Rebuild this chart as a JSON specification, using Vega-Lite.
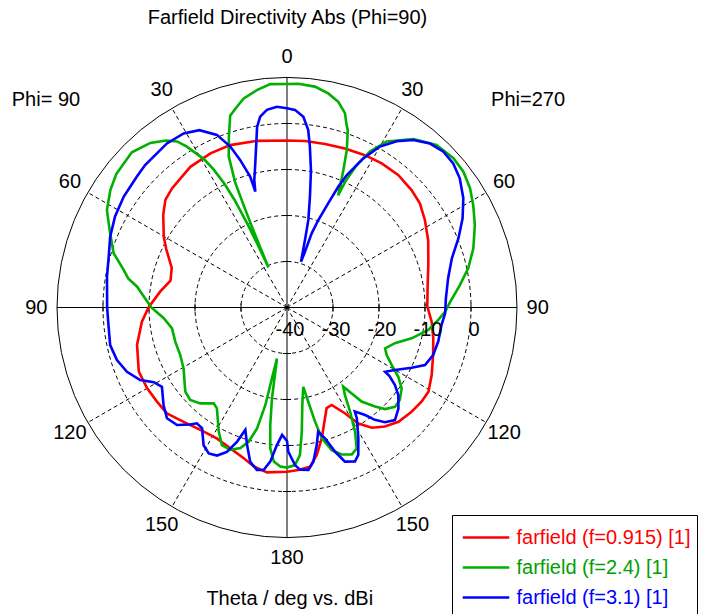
{
  "$schema": "https://vega.github.io/schema/vega-lite/v6.json",
  "width": 460,
  "height": 460,
  "autosize": "none",
  "padding": {"left": 57, "top": 77.5, "right": 189, "bottom": 76.5},
  "background": "white",
  "config": {
    "view": {"stroke": null},
    "font": "Liberation Sans"
  },
  "datasets": {
    "curves": [
      {"f":"0.915","angle":0,"dbi":-3.7},{"f":"0.915","angle":6.2,"dbi":-3.6},{"f":"0.915","angle":13.1,"dbi":-3.5},{"f":"0.915","angle":20,"dbi":-3.2},{"f":"0.915","angle":27.1,"dbi":-2.8},{"f":"0.915","angle":33.3,"dbi":-2.5},{"f":"0.915","angle":40,"dbi":-2.4},{"f":"0.915","angle":46.7,"dbi":-2.8},{"f":"0.915","angle":51.9,"dbi":-3.3},{"f":"0.915","angle":57.6,"dbi":-4.5},{"f":"0.915","angle":64.5,"dbi":-6.0},{"f":"0.915","angle":72.6,"dbi":-7.8},{"f":"0.915","angle":81.6,"dbi":-9.1},{"f":"0.915","angle":89.5,"dbi":-9.5},{"f":"0.915","angle":95.6,"dbi":-8.4},{"f":"0.915","angle":101.9,"dbi":-7.5},{"f":"0.915","angle":108,"dbi":-6.6},{"f":"0.915","angle":115,"dbi":-5.3},{"f":"0.915","angle":120.8,"dbi":-4.2},{"f":"0.915","angle":125,"dbi":-4.3},{"f":"0.915","angle":129.9,"dbi":-4.7},{"f":"0.915","angle":135.7,"dbi":-5.3},{"f":"0.915","angle":140.6,"dbi":-6.5},{"f":"0.915","angle":144.8,"dbi":-8.0},{"f":"0.915","angle":148.4,"dbi":-10.4},{"f":"0.915","angle":151.3,"dbi":-13.8},{"f":"0.915","angle":155.4,"dbi":-16.7},{"f":"0.915","angle":158.5,"dbi":-16.5},{"f":"0.915","angle":165.1,"dbi":-10.6},{"f":"0.915","angle":168.6,"dbi":-7.3},{"f":"0.915","angle":171.8,"dbi":-5.0},{"f":"0.915","angle":176,"dbi":-4.6},{"f":"0.915","angle":180,"dbi":-4.3},
      {"f":"0.915","angle":186.9,"dbi":-3.9},{"f":"0.915","angle":191.8,"dbi":-4.7},{"f":"0.915","angle":196,"dbi":-5.9},{"f":"0.915","angle":201.9,"dbi":-7.0},{"f":"0.915","angle":208.2,"dbi":-7.7},{"f":"0.915","angle":215.3,"dbi":-7.4},{"f":"0.915","angle":222.1,"dbi":-6.5},{"f":"0.915","angle":228.6,"dbi":-5.2},{"f":"0.915","angle":234.1,"dbi":-5.1},{"f":"0.915","angle":240,"dbi":-4.9},{"f":"0.915","angle":246.6,"dbi":-4.9},{"f":"0.915","angle":256,"dbi":-6.4},{"f":"0.915","angle":264.4,"dbi":-8.3},{"f":"0.915","angle":270,"dbi":-9.9},{"f":"0.915","angle":277.1,"dbi":-12.2},{"f":"0.915","angle":283,"dbi":-14.0},{"f":"0.915","angle":289,"dbi":-13.5},{"f":"0.915","angle":295.9,"dbi":-10.8},{"f":"0.915","angle":299.9,"dbi":-9.1},{"f":"0.915","angle":306.8,"dbi":-6.4},{"f":"0.915","angle":311.5,"dbi":-4.7},{"f":"0.915","angle":316,"dbi":-4.0},{"f":"0.915","angle":325.5,"dbi":-2.9},{"f":"0.915","angle":333.6,"dbi":-2.6},{"f":"0.915","angle":340.7,"dbi":-2.6},{"f":"0.915","angle":349.8,"dbi":-3.2},{"f":"0.915","angle":360,"dbi":-3.7},

      {"f":"2.4","angle":0,"dbi":8.6},{"f":"2.4","angle":2.9,"dbi":8.7},{"f":"2.4","angle":7.2,"dbi":8.4},{"f":"2.4","angle":10.9,"dbi":7.4},{"f":"2.4","angle":14,"dbi":6.1},{"f":"2.4","angle":16.6,"dbi":4.1},{"f":"2.4","angle":18.1,"dbi":1.7},{"f":"2.4","angle":18.9,"dbi":0.8},{"f":"2.4","angle":20.8,"dbi":-3.4},{"f":"2.4","angle":22.3,"dbi":-7.7},{"f":"2.4","angle":23.7,"dbi":-11.3},{"f":"2.4","angle":24.5,"dbi":-13.2},{"f":"2.4","angle":24.8,"dbi":-9.9},{"f":"2.4","angle":26.1,"dbi":-5.5},{"f":"2.4","angle":28,"dbi":-1.6},{"f":"2.4","angle":31,"dbi":2.1},{"f":"2.4","angle":36.9,"dbi":5.8},{"f":"2.4","angle":42.6,"dbi":8.0},{"f":"2.4","angle":48.1,"dbi":8.6},{"f":"2.4","angle":52.4,"dbi":8.4},{"f":"2.4","angle":56.9,"dbi":7.5},{"f":"2.4","angle":61.2,"dbi":6.2},{"f":"2.4","angle":66.3,"dbi":4.6},{"f":"2.4","angle":72.4,"dbi":2.5},{"f":"2.4","angle":77.8,"dbi":0.3},{"f":"2.4","angle":82.6,"dbi":-2.1},{"f":"2.4","angle":88,"dbi":-4.5},{"f":"2.4","angle":91.5,"dbi":-5.6},{"f":"2.4","angle":94.7,"dbi":-7.0},{"f":"2.4","angle":99,"dbi":-8.9},{"f":"2.4","angle":103.9,"dbi":-12.1},{"f":"2.4","angle":108.3,"dbi":-15.3},{"f":"2.4","angle":112.6,"dbi":-16.9},{"f":"2.4","angle":115.5,"dbi":-16.0},{"f":"2.4","angle":118.8,"dbi":-14.0},{"f":"2.4","angle":121.9,"dbi":-11.5},{"f":"2.4","angle":125.2,"dbi":-9.5},{"f":"2.4","angle":129.3,"dbi":-8.3},{"f":"2.4","angle":132.6,"dbi":-8.1},{"f":"2.4","angle":136,"dbi":-9.3},{"f":"2.4","angle":138.4,"dbi":-11.2},{"f":"2.4","angle":141.6,"dbi":-13.9},{"f":"2.4","angle":143,"dbi":-16.6},{"f":"2.4","angle":144.6,"dbi":-18.9},{"f":"2.4","angle":146.5,"dbi":-17.2},{"f":"2.4","angle":148.8,"dbi":-13.5},{"f":"2.4","angle":151.3,"dbi":-9.2},{"f":"2.4","angle":153.7,"dbi":-5.8},{"f":"2.4","angle":156.2,"dbi":-5.1},{"f":"2.4","angle":159.6,"dbi":-5.9},{"f":"2.4","angle":162.6,"dbi":-7.5},{"f":"2.4","angle":165.1,"dbi":-10.6},{"f":"2.4","angle":166.2,"dbi":-14.5},{"f":"2.4","angle":167.3,"dbi":-19.0},{"f":"2.4","angle":168.4,"dbi":-22.4},{"f":"2.4","angle":171.1,"dbi":-18.5},{"f":"2.4","angle":173.2,"dbi":-12.8},{"f":"2.4","angle":175,"dbi":-7.8},{"f":"2.4","angle":177.1,"dbi":-5.7},{"f":"2.4","angle":180,"dbi":-5.2},
      {"f":"2.4","angle":182.4,"dbi":-5.4},{"f":"2.4","angle":184.9,"dbi":-6.4},{"f":"2.4","angle":186.8,"dbi":-9.2},{"f":"2.4","angle":188.1,"dbi":-14.2},{"f":"2.4","angle":189.4,"dbi":-20.0},{"f":"2.4","angle":190.3,"dbi":-25.8},{"f":"2.4","angle":191.1,"dbi":-28.7},{"f":"2.4","angle":192,"dbi":-24.3},{"f":"2.4","angle":192.5,"dbi":-18.3},{"f":"2.4","angle":193.9,"dbi":-12.9},{"f":"2.4","angle":195.9,"dbi":-9.7},{"f":"2.4","angle":198.3,"dbi":-7.8},{"f":"2.4","angle":201.7,"dbi":-6.7},{"f":"2.4","angle":205.3,"dbi":-6.9},{"f":"2.4","angle":208.8,"dbi":-9.2},{"f":"2.4","angle":214.8,"dbi":-13.3},{"f":"2.4","angle":217.4,"dbi":-13.8},{"f":"2.4","angle":222.1,"dbi":-11.9},{"f":"2.4","angle":226.3,"dbi":-10.9},{"f":"2.4","angle":230.4,"dbi":-11.3},{"f":"2.4","angle":239.5,"dbi":-13.9},{"f":"2.4","angle":246,"dbi":-14.6},{"f":"2.4","angle":253,"dbi":-14.6},{"f":"2.4","angle":259.7,"dbi":-14.6},{"f":"2.4","angle":265,"dbi":-13.1},{"f":"2.4","angle":270,"dbi":-10.5},{"f":"2.4","angle":277.9,"dbi":-7.1},{"f":"2.4","angle":280.4,"dbi":-4.9},{"f":"2.4","angle":282.9,"dbi":-3.6},{"f":"2.4","angle":287.4,"dbi":-0.5},{"f":"2.4","angle":293.2,"dbi":1.9},{"f":"2.4","angle":298.4,"dbi":4.5},{"f":"2.4","angle":303.6,"dbi":6.1},{"f":"2.4","angle":308,"dbi":7.1},{"f":"2.4","angle":315,"dbi":7.7},{"f":"2.4","angle":320.3,"dbi":6.5},{"f":"2.4","angle":324.1,"dbi":4.8},{"f":"2.4","angle":326.5,"dbi":3.3},{"f":"2.4","angle":328.1,"dbi":1.2},{"f":"2.4","angle":330.8,"dbi":-3.1},{"f":"2.4","angle":332,"dbi":-6.0},{"f":"2.4","angle":333.2,"dbi":-10.0},{"f":"2.4","angle":334,"dbi":-14.0},{"f":"2.4","angle":334.7,"dbi":-20.0},{"f":"2.4","angle":335,"dbi":-25.0},{"f":"2.4","angle":335.2,"dbi":-30.4},{"f":"2.4","angle":336,"dbi":-26.0},{"f":"2.4","angle":336.5,"dbi":-21.0},{"f":"2.4","angle":337,"dbi":-16.0},{"f":"2.4","angle":337.5,"dbi":-10.5},{"f":"2.4","angle":338.9,"dbi":-4.8},{"f":"2.4","angle":341.2,"dbi":-0.8},{"f":"2.4","angle":343.5,"dbi":3.5},{"f":"2.4","angle":345.5,"dbi":4.7},{"f":"2.4","angle":348.3,"dbi":6.4},{"f":"2.4","angle":352.1,"dbi":7.7},{"f":"2.4","angle":355.7,"dbi":8.7},{"f":"2.4","angle":360,"dbi":8.6},

      {"f":"3.1","angle":0,"dbi":3.3},{"f":"3.1","angle":2.3,"dbi":3.0},{"f":"3.1","angle":4.9,"dbi":1.6},{"f":"3.1","angle":6.8,"dbi":-1.1},{"f":"3.1","angle":8.1,"dbi":-4.7},{"f":"3.1","angle":9.9,"dbi":-9.7},{"f":"3.1","angle":11.7,"dbi":-15.4},{"f":"3.1","angle":13.7,"dbi":-20.4},{"f":"3.1","angle":14.9,"dbi":-24.8},{"f":"3.1","angle":17,"dbi":-29.6},{"f":"3.1","angle":17.9,"dbi":-27.3},{"f":"3.1","angle":18.4,"dbi":-23.0},{"f":"3.1","angle":19.7,"dbi":-19.8},{"f":"3.1","angle":21.6,"dbi":-15.6},{"f":"3.1","angle":23,"dbi":-11.5},{"f":"3.1","angle":24.3,"dbi":-8.4},{"f":"3.1","angle":27.1,"dbi":-3.6},{"f":"3.1","angle":30,"dbi":0.4},{"f":"3.1","angle":33.4,"dbi":3.3},{"f":"3.1","angle":37,"dbi":5.6},{"f":"3.1","angle":41.1,"dbi":7.3},{"f":"3.1","angle":45.1,"dbi":8.0},{"f":"3.1","angle":49.1,"dbi":7.8},{"f":"3.1","angle":53.2,"dbi":6.9},{"f":"3.1","angle":58.2,"dbi":5.1},{"f":"3.1","angle":63.1,"dbi":2.8},{"f":"3.1","angle":68,"dbi":0.2},{"f":"3.1","angle":73.4,"dbi":-2.6},{"f":"3.1","angle":79.7,"dbi":-4.4},{"f":"3.1","angle":86.7,"dbi":-5.4},{"f":"3.1","angle":92.1,"dbi":-5.6},{"f":"3.1","angle":96.5,"dbi":-6.2},{"f":"3.1","angle":102.7,"dbi":-6.3},{"f":"3.1","angle":108,"dbi":-6.6},{"f":"3.1","angle":112.6,"dbi":-7.5},{"f":"3.1","angle":115.8,"dbi":-9.9},{"f":"3.1","angle":120.1,"dbi":-12.9},{"f":"3.1","angle":123.2,"dbi":-14.5},{"f":"3.1","angle":123.8,"dbi":-13.2},{"f":"3.1","angle":125.7,"dbi":-11.1},{"f":"3.1","angle":128.2,"dbi":-9.2},{"f":"3.1","angle":132.2,"dbi":-7.3},{"f":"3.1","angle":136.2,"dbi":-6.1},{"f":"3.1","angle":139.5,"dbi":-7.2},{"f":"3.1","angle":142,"dbi":-9.0},{"f":"3.1","angle":144,"dbi":-11.1},{"f":"3.1","angle":146.9,"dbi":-13.0},{"f":"3.1","angle":147.8,"dbi":-11.5},{"f":"3.1","angle":151.4,"dbi":-7.6},{"f":"3.1","angle":154.2,"dbi":-4.4},{"f":"3.1","angle":156.2,"dbi":-3.4},{"f":"3.1","angle":159.4,"dbi":-4.2},{"f":"3.1","angle":161.6,"dbi":-7.0},{"f":"3.1","angle":163.8,"dbi":-10.4},{"f":"3.1","angle":165.9,"dbi":-12.2},{"f":"3.1","angle":167.8,"dbi":-9.4},{"f":"3.1","angle":170.3,"dbi":-6.0},{"f":"3.1","angle":172.5,"dbi":-4.4},{"f":"3.1","angle":175.4,"dbi":-4.6},{"f":"3.1","angle":177.1,"dbi":-5.7},{"f":"3.1","angle":179.5,"dbi":-8.7},{"f":"3.1","angle":180,"dbi":-11.0},
      {"f":"3.1","angle":182.2,"dbi":-12.3},{"f":"3.1","angle":184.2,"dbi":-10.0},{"f":"3.1","angle":186.2,"dbi":-6.3},{"f":"3.1","angle":188.2,"dbi":-4.3},{"f":"3.1","angle":190.5,"dbi":-4.1},{"f":"3.1","angle":193.4,"dbi":-5.5},{"f":"3.1","angle":196.2,"dbi":-8.9},{"f":"3.1","angle":198.8,"dbi":-11.9},{"f":"3.1","angle":200.4,"dbi":-8.9},{"f":"3.1","angle":202.6,"dbi":-6.0},{"f":"3.1","angle":205.3,"dbi":-4.4},{"f":"3.1","angle":208.2,"dbi":-4.0},{"f":"3.1","angle":211.2,"dbi":-5.0},{"f":"3.1","angle":215.1,"dbi":-7.9},{"f":"3.1","angle":217.9,"dbi":-8.1},{"f":"3.1","angle":219.6,"dbi":-7.0},{"f":"3.1","angle":223.1,"dbi":-5.0},{"f":"3.1","angle":227.3,"dbi":-4.5},{"f":"3.1","angle":231.7,"dbi":-5.8},{"f":"3.1","angle":237.6,"dbi":-7.8},{"f":"3.1","angle":240.7,"dbi":-6.8},{"f":"3.1","angle":243.7,"dbi":-4.4},{"f":"3.1","angle":248.1,"dbi":-2.5},{"f":"3.1","angle":252.8,"dbi":-1.3},{"f":"3.1","angle":258,"dbi":-0.7},{"f":"3.1","angle":264.4,"dbi":-1.0},{"f":"3.1","angle":270,"dbi":-0.9},{"f":"3.1","angle":279.7,"dbi":-0.3},{"f":"3.1","angle":285.9,"dbi":0.3},{"f":"3.1","angle":291.8,"dbi":1.4},{"f":"3.1","angle":297.9,"dbi":2.3},{"f":"3.1","angle":304.2,"dbi":2.9},{"f":"3.1","angle":311.1,"dbi":3.3},{"f":"3.1","angle":315.1,"dbi":3.7},{"f":"3.1","angle":323.8,"dbi":4.2},{"f":"3.1","angle":329.3,"dbi":4.0},{"f":"3.1","angle":333.7,"dbi":3.0},{"f":"3.1","angle":337.9,"dbi":0.5},{"f":"3.1","angle":340.6,"dbi":-2.9},{"f":"3.1","angle":342.4,"dbi":-6.4},{"f":"3.1","angle":344.3,"dbi":-10.5},{"f":"3.1","angle":344.7,"dbi":-13.9},{"f":"3.1","angle":345.6,"dbi":-11.4},{"f":"3.1","angle":347.6,"dbi":-7.9},{"f":"3.1","angle":349.4,"dbi":-3.7},{"f":"3.1","angle":350.6,"dbi":-0.2},{"f":"3.1","angle":352,"dbi":1.9},{"f":"3.1","angle":354.2,"dbi":3.2},{"f":"3.1","angle":357.1,"dbi":3.7},{"f":"3.1","angle":360,"dbi":3.3}
    ]
  },
  "layer": [
    {
      "data": {"values": [{"level": -30}, {"level": -20}, {"level": -10}, {"level": 0}]},
      "transform": [{"calculate": "datum.level + 40", "as": "r"}, {"calculate": "0", "as": "cx"}],
      "mark": {"type": "point", "shape": "circle", "filled": false, "stroke": "#000", "strokeWidth": 1, "strokeDash": [4, 3], "opacity": 1},
      "encoding": {
        "x": {"field": "cx", "type": "quantitative", "scale": {"domain": [-50, 50], "nice": false, "zero": false}, "axis": null},
        "y": {"field": "cx", "type": "quantitative", "scale": {"domain": [-50, 50], "nice": false, "zero": false}, "axis": null},
        "size": {"field": "r", "type": "quantitative", "scale": {"type": "pow", "exponent": 2, "domain": [0, 50], "range": [0, 211600], "nice": false}, "legend": null}
      }
    },
    {
      "data": {"values": [{"level": 10}]},
      "transform": [{"calculate": "datum.level + 40", "as": "r"}, {"calculate": "0", "as": "cx"}],
      "mark": {"type": "point", "shape": "circle", "filled": false, "stroke": "#000", "strokeWidth": 1, "opacity": 1},
      "encoding": {
        "x": {"field": "cx", "type": "quantitative", "scale": {"domain": [-50, 50], "nice": false, "zero": false}, "axis": null},
        "y": {"field": "cx", "type": "quantitative", "scale": {"domain": [-50, 50], "nice": false, "zero": false}, "axis": null},
        "size": {"field": "r", "type": "quantitative", "scale": {"type": "pow", "exponent": 2, "domain": [0, 50], "range": [0, 211600], "nice": false}, "legend": null}
      }
    },
    {
      "data": {"values": [{"angle": 30}, {"angle": 60}, {"angle": 120}, {"angle": 150}, {"angle": 210}, {"angle": 240}, {"angle": 300}, {"angle": 330}]},
      "transform": [{"calculate": "0", "as": "cx"}, {"calculate": "50*sin(datum.angle*PI/180)", "as": "sx"}, {"calculate": "50*cos(datum.angle*PI/180)", "as": "sy"}],
      "mark": {"type": "rule", "stroke": "#000", "strokeWidth": 1, "strokeDash": [4, 3]},
      "encoding": {
        "x": {"field": "cx", "type": "quantitative", "scale": {"domain": [-50, 50], "nice": false, "zero": false}, "axis": null},
        "y": {"field": "cx", "type": "quantitative", "scale": {"domain": [-50, 50], "nice": false, "zero": false}, "axis": null},
        "x2": {"field": "sx"},
        "y2": {"field": "sy"}
      }
    },
    {
      "data": {"values": [{"angle": 0}, {"angle": 90}, {"angle": 180}, {"angle": 270}]},
      "transform": [{"calculate": "0", "as": "cx"}, {"calculate": "50*sin(datum.angle*PI/180)", "as": "sx"}, {"calculate": "50*cos(datum.angle*PI/180)", "as": "sy"}],
      "mark": {"type": "rule", "stroke": "#000", "strokeWidth": 1},
      "encoding": {
        "x": {"field": "cx", "type": "quantitative", "scale": {"domain": [-50, 50], "nice": false, "zero": false}, "axis": null},
        "y": {"field": "cx", "type": "quantitative", "scale": {"domain": [-50, 50], "nice": false, "zero": false}, "axis": null},
        "x2": {"field": "sx"},
        "y2": {"field": "sy"}
      }
    },
    {
      "data": {"values": [{"level": -30}, {"level": -20}, {"level": -10}, {"level": 0}]},
      "transform": [
        {"calculate": "datum.level + 40", "as": "p"}, {"calculate": "-(datum.level + 40)", "as": "n"},
        {"fold": ["p", "n"], "as": ["k", "v"]},
        {"calculate": "-0.87", "as": "t1"}, {"calculate": "0.87", "as": "t2"}
      ],
      "layer": [
        {"mark": {"type": "rule", "stroke": "#000", "strokeWidth": 1},
         "encoding": {"x": {"field": "v", "type": "quantitative", "scale": {"domain": [-50, 50], "nice": false, "zero": false}, "axis": null},
                      "y": {"field": "t1", "type": "quantitative", "scale": {"domain": [-50, 50], "nice": false, "zero": false}, "axis": null},
                      "y2": {"field": "t2"}}},
        {"mark": {"type": "rule", "stroke": "#000", "strokeWidth": 1},
         "encoding": {"y": {"field": "v", "type": "quantitative", "scale": {"domain": [-50, 50], "nice": false, "zero": false}, "axis": null},
                      "x": {"field": "t1", "type": "quantitative", "scale": {"domain": [-50, 50], "nice": false, "zero": false}, "axis": null},
                      "x2": {"field": "t2"}}}
      ]
    },
    {
      "data": {"name": "curves"},
      "transform": [{"calculate": "(datum.dbi+40)*sin(datum.angle*PI/180)", "as": "px"}, {"calculate": "(datum.dbi+40)*cos(datum.angle*PI/180)", "as": "py"}],
      "mark": {"type": "line", "strokeWidth": 2.6},
      "encoding": {
        "x": {"field": "px", "type": "quantitative", "scale": {"domain": [-50, 50], "nice": false, "zero": false}, "axis": null},
        "y": {"field": "py", "type": "quantitative", "scale": {"domain": [-50, 50], "nice": false, "zero": false}, "axis": null},
        "color": {"field": "f", "type": "nominal",
                  "scale": {"domain": ["0.915", "2.4", "3.1"], "range": ["#ff0000", "#00b000", "#0000ff"]},
                  "legend": {"orient": "none", "legendX": 395, "legendY": 437.5, "title": null, "direction": "vertical",
                             "padding": 6, "strokeColor": "#000", "fillColor": "#fff",
                             "symbolType": "M-1.55,0H1.55", "symbolSize": 900, "symbolStrokeWidth": 2.5, "symbolOffset": 11.5,
                             "labelFontSize": 20, "labelFont": "Liberation Sans", "labelOffset": 14, "labelLimit": 0, "rowPadding": 3,
                             "labelExpr": "'farfield (f=' + datum.label + ') [1]        '",
                             "labelColor": {"expr": "datum.label == '0.915' ? '#ff0000' : datum.label == '2.4' ? '#00a000' : '#0000ff'"}}},
        "order": {"field": "angle", "type": "quantitative"}
      }
    },
    {
      "data": {"values": [{"angle": 0, "label": "0"}, {"angle": 30, "label": "30"}, {"angle": 60, "label": "60"}, {"angle": 90, "label": "90"}, {"angle": 120, "label": "120"}, {"angle": 150, "label": "150"}, {"angle": 180, "label": "180"}, {"angle": 210, "label": "150"}, {"angle": 240, "label": "120"}, {"angle": 270, "label": "90"}, {"angle": 300, "label": "60"}, {"angle": 330, "label": "30"}]},
      "transform": [{"calculate": "54.5*sin(datum.angle*PI/180)", "as": "lx"}, {"calculate": "54.5*cos(datum.angle*PI/180)", "as": "ly"}],
      "mark": {"type": "text", "fontSize": 20, "font": "Liberation Sans", "align": "center", "baseline": "middle", "color": "#000"},
      "encoding": {
        "x": {"field": "lx", "type": "quantitative", "scale": {"domain": [-50, 50], "nice": false, "zero": false}, "axis": null},
        "y": {"field": "ly", "type": "quantitative", "scale": {"domain": [-50, 50], "nice": false, "zero": false}, "axis": null},
        "text": {"field": "label", "type": "nominal"}
      }
    },
    {
      "data": {"values": [{"level": -40, "label": "-40"}, {"level": -30, "label": "-30"}, {"level": -20, "label": "-20"}, {"level": -10, "label": "-10"}, {"level": 0, "label": "0"}]},
      "transform": [{"calculate": "datum.level + 40", "as": "rx"}, {"calculate": "0", "as": "ry"}],
      "mark": {"type": "text", "fontSize": 20, "font": "Liberation Sans", "align": "center", "baseline": "middle", "color": "#000", "dx": 3, "dy": 22.5},
      "encoding": {
        "x": {"field": "rx", "type": "quantitative", "scale": {"domain": [-50, 50], "nice": false, "zero": false}, "axis": null},
        "y": {"field": "ry", "type": "quantitative", "scale": {"domain": [-50, 50], "nice": false, "zero": false}, "axis": null},
        "text": {"field": "label", "type": "nominal"}
      }
    },
    {
      "data": {"values": [{"label": "Phi= 90", "side": -1}, {"label": "Phi=270", "side": 1}]},
      "transform": [{"calculate": "52.4*datum.side", "as": "tx"}, {"calculate": "45.1", "as": "ty"}],
      "mark": {"type": "text", "fontSize": 20, "font": "Liberation Sans", "align": "center", "baseline": "middle", "color": "#000"},
      "encoding": {
        "x": {"field": "tx", "type": "quantitative", "scale": {"domain": [-50, 50], "nice": false, "zero": false}, "axis": null},
        "y": {"field": "ty", "type": "quantitative", "scale": {"domain": [-50, 50], "nice": false, "zero": false}, "axis": null},
        "text": {"field": "label", "type": "nominal"}
      }
    },
    {
      "data": {"values": [{"label": "Farfield Directivity Abs (Phi=90)", "pos": "top"}, {"label": "Theta / deg vs. dBi", "pos": "bottom"}]},
      "transform": [{"calculate": "datum.pos == 'top' ? 0.1 : 0.6", "as": "tx"}, {"calculate": "datum.pos == 'top' ? 63.0 : -63.4", "as": "ty"}],
      "mark": {"type": "text", "fontSize": 20, "font": "Liberation Sans", "align": "center", "baseline": "middle", "color": "#000"},
      "encoding": {
        "x": {"field": "tx", "type": "quantitative", "scale": {"domain": [-50, 50], "nice": false, "zero": false}, "axis": null},
        "y": {"field": "ty", "type": "quantitative", "scale": {"domain": [-50, 50], "nice": false, "zero": false}, "axis": null},
        "text": {"field": "label", "type": "nominal"}
      }
    }
  ]
}
